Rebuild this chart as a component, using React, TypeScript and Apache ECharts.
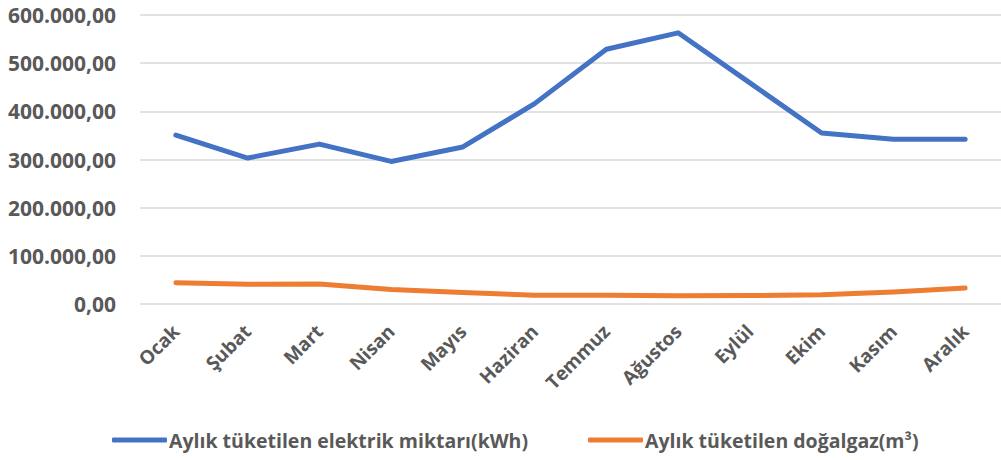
import React, { useEffect, useRef } from "react";
import * as echarts from "echarts";

const months = ["Ocak", "Şubat", "Mart", "Nisan", "Mayıs", "Haziran", "Temmuz", "Ağustos", "Eylül", "Ekim", "Kasım", "Aralık"];
const electricity = [350600, 303000, 332000, 296000, 326000, 416000, 529000, 563000, 459000, 355000, 342000, 342000];
const naturalGas = [44000, 41000, 41500, 30000, 24000, 18000, 18000, 17000, 17500, 19000, 25000, 33000];
const seriesNames = ["Aylık tüketilen elektrik miktarı(kWh)", "Aylık tüketilen doğalgaz(m³)"];

const FONT = "'Open Sans', 'Noto Sans', sans-serif";
const TEXT = "#595959";

function fmtTR(v: number): string {
  const fixed = v.toFixed(2);
  const [intPart, dec] = fixed.split(".");
  const withDots = intPart.replace(/\B(?=(\d{3})+(?!\d))/g, ".");
  return withDots + "," + dec;
}

export default function App() {
  const ref = useRef<HTMLDivElement>(null);
  useEffect(() => {
    if (!ref.current) return;
    const chart = echarts.init(ref.current, undefined, { renderer: "svg" });
    chart.setOption({
      animation: false,
      backgroundColor: "#ffffff",
      grid: { left: 140, right: -4, top: 15, bottom: 156, containLabel: false },
      legend: {
        left: 107,
        top: 425,
        itemGap: 60,
        itemWidth: 55,
        itemHeight: 5,
        icon: "roundRect",
        textStyle: { color: TEXT, fontFamily: FONT, fontWeight: "bold", fontSize: 19.5, padding: [0, 0, 0, -3] },
        data: seriesNames,
      },
      xAxis: {
        type: "category",
        data: months,
        boundaryGap: true,
        axisLine: { show: false },
        axisTick: { show: false },
        axisLabel: {
          rotate: 45,
          margin: 24,
          color: TEXT,
          fontFamily: FONT,
          fontWeight: "bold",
          fontSize: 19,
          interval: 0,
        },
      },
      yAxis: {
        type: "value",
        min: 0,
        max: 600000,
        interval: 100000,
        axisLine: { show: false },
        axisTick: { show: false },
        splitLine: { lineStyle: { color: "#D9D9D9", width: 1.5 } },
        axisLabel: {
          margin: 24,
          color: TEXT,
          fontFamily: FONT,
          fontWeight: "bold",
          fontSize: 21,
          formatter: (v: number) => fmtTR(v),
        },
      },
      series: [
        {
          name: seriesNames[0],
          type: "line",
          data: electricity,
          showSymbol: false,
          symbol: "none",
          lineStyle: { color: "#4472C4", width: 5, cap: "round", join: "round" },
          itemStyle: { color: "#4472C4" },
        },
        {
          name: seriesNames[1],
          type: "line",
          data: naturalGas,
          showSymbol: false,
          symbol: "none",
          lineStyle: { color: "#ED7D31", width: 5, cap: "round", join: "round" },
          itemStyle: { color: "#ED7D31" },
        },
      ],
    });
    return () => chart.dispose();
  }, []);
  return (
    <div
      ref={ref}
      style={{ position: "absolute", left: 0, top: 0, width: 1001, height: 460, background: "#fff" }}
    />
  );
}
